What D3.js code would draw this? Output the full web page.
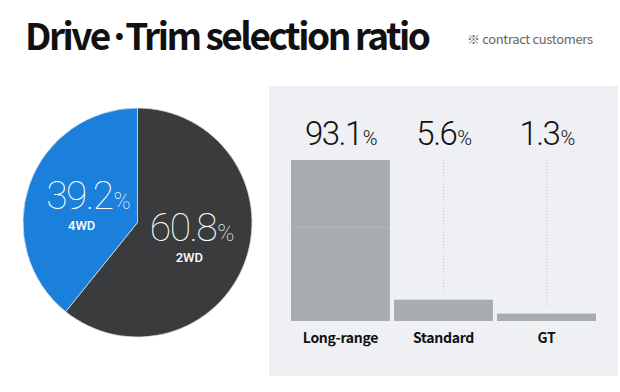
<!DOCTYPE html>
<html><head><meta charset="utf-8">
<script src="https://cdn.jsdelivr.net/npm/d3@7"></script>
<style>
html,body{margin:0;padding:0;background:#fff;}
svg{display:block;}
</style></head>
<body>
<script>
// ---- data ----
const title = "Drive·Trim selection ratio";
const subtitle = "※ contract customers";
const driveLabels = ["2WD", "4WD"];
const driveValues = [60.8, 39.2];
const trimLabels = ["Long-range", "Standard", "GT"];
const trimValues = [93.1, 5.6, 1.3];
const guideValue = 44;

const W = 620, H = 392;
const svg = d3.select("body").append("svg").attr("width", W).attr("height", H);

const numFont = "Roboto, 'Noto Sans', sans-serif";
const krFont = "'Noto Sans CJK KR', 'Noto Sans', sans-serif";

function fitWidth(sel, target) {
  const n = sel.text().length;
  const w = sel.node().getComputedTextLength();
  sel.attr("letter-spacing", (target - w) / (n - 1));
}

// title
const tt = svg.append("text").attr("x", 25).attr("y", 50)
  .attr("font-family", krFont).attr("font-weight", 700).attr("font-size", 37)
  .attr("fill", "#111").text(title);
fitWidth(tt, 406);
const st = svg.append("text").attr("x", 467).attr("y", 44)
  .attr("font-family", krFont).attr("font-size", 13).attr("fill", "#666")
  .text(subtitle);
fitWidth(st, 126);

// ---- pie ----
const cx = 137.5, cy = 222.5, R = 114.5;
const pieColors = d3.scaleOrdinal().domain(driveLabels).range(["#3a3b3d", "#1a80dc"]);
const pie = d3.pie().sort(null).value(d => d.v);
const driveData = driveLabels.map((l, i) => ({ l, v: driveValues[i] }));
const arcs = pie(driveData);
const arc = d3.arc().innerRadius(0).outerRadius(R);
const gp = svg.append("g").attr("transform", `translate(${cx},${cy})`);
gp.selectAll("path").data(arcs).join("path")
  .attr("d", arc).attr("fill", d => pieColors(d.data.l))
  .attr("stroke", "#d8dde3").attr("stroke-width", 0.8);

const labelArc = d3.arc().innerRadius(R * 0.48).outerRadius(R * 0.48);
arcs.forEach(d => {
  const [x, y] = labelArc.centroid(d);
  const is2 = d.data.l === "2WD";
  const lx = cx + x + 2;
  const ly = cy + y + (is2 ? 0 : 5);
  const t = svg.append("text").attr("x", lx).attr("y", ly)
    .attr("text-anchor", "middle").attr("font-family", numFont)
    .attr("font-weight", 100).attr("fill", "#fff").attr("letter-spacing", -1.5);
  t.append("tspan").attr("font-size", 39).text(d.data.v.toFixed(1));
  t.append("tspan").attr("font-size", 23).attr("dx", 1).text("%");
  svg.append("text").attr("x", lx + (is2 ? -2 : -6)).attr("y", ly + 21)
    .attr("text-anchor", "middle").attr("font-family", numFont)
    .attr("font-weight", 500).attr("font-size", 13).attr("fill", "#fff")
    .text(d.data.l);
});

// ---- bar panel ----
const panel = { x0: 269, x1: 618, y0: 86, y1: 376 };
svg.append("rect").attr("x", panel.x0).attr("y", panel.y0)
  .attr("width", panel.x1 - panel.x0).attr("height", panel.y1 - panel.y0)
  .attr("fill", "#eef0f3");

const x = d3.scaleBand().domain(trimLabels).range([291, 596]).paddingInner(0.04);
const y = d3.scalePow().exponent(0.72).domain([0, d3.max(trimValues)]).range([321, 160]);

const gb = svg.append("g");
trimLabels.forEach((lab, i) => {
  const v = trimValues[i];
  const bx = x(lab), bw = x.bandwidth();
  if (y(v) > y(d3.max(trimValues)) + 20) {
    gb.append("line").attr("x1", bx + bw / 2).attr("x2", bx + bw / 2)
      .attr("y1", y(d3.max(trimValues))).attr("y2", y(v) - 8)
      .attr("stroke", "#c5c9cd").attr("stroke-width", 1).attr("stroke-dasharray", "1,2");
  }
  gb.append("rect").attr("x", bx).attr("y", y(v)).attr("width", bw)
    .attr("height", y(0) - y(v)).attr("fill", "#a7acae");
  if (v >= guideValue) {
    gb.append("line").attr("x1", bx).attr("x2", bx + bw)
      .attr("y1", y(guideValue)).attr("y2", y(guideValue))
      .attr("stroke", "#b6babc").attr("stroke-width", 1);
  }
  const t = gb.append("text").attr("x", bx + bw / 2).attr("y", 145)
    .attr("text-anchor", "middle").attr("font-family", numFont)
    .attr("font-weight", 300).attr("fill", "#111").attr("letter-spacing", -1.5);
  t.append("tspan").attr("font-size", 33).text(v.toFixed(1));
  t.append("tspan").attr("font-size", 20).attr("dx", 1).text("%");
  gb.append("text").attr("x", bx + bw / 2).attr("y", 343)
    .attr("text-anchor", "middle").attr("font-family", krFont)
    .attr("font-weight", 700).attr("font-size", 14).attr("fill", "#111")
    .attr("letter-spacing", -0.3)
    .text(lab);
});
</script>
</body></html>
